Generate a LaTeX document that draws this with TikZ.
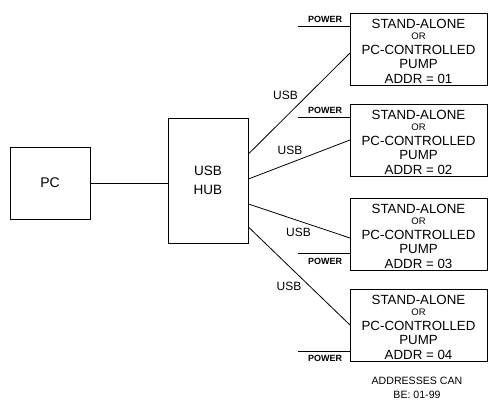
\documentclass[tikz,border=0pt]{standalone}
\usepackage{fontspec}
\setmainfont{Liberation Sans}
\begin{document}
\begin{tikzpicture}[x=1pt,y=-1pt,
 box/.style={draw, rectangle, inner sep=0pt, line width=0.8pt},
 pump/.style={box, minimum width=137pt, minimum height=72pt, anchor=north west},
 ptext/.style={font=\fontsize{13.3}{15}\selectfont, inner sep=0pt},
 ortext/.style={font=\fontsize{9.5}{11}\selectfont, inner sep=0pt},
 lbl/.style={font=\fontsize{12}{13}\selectfont, inner sep=0pt},
 pwr/.style={font=\bfseries\fontsize{9}{10}\selectfont, inner sep=0pt},
 note/.style={font=\fontsize{10.6}{12}\selectfont, inner sep=0pt},
 conn/.style={line width=0.8pt}]
\useasboundingbox (0,0) rectangle (488,400);

% PC and hub
\node[box, minimum width=80pt, minimum height=72pt, font=\fontsize{14}{16}\selectfont] (pc) at (50,183) {PC};
\node[box, minimum width=80pt, minimum height=125pt, align=center, font=\fontsize{13.5}{19}\selectfont] (hub) at (208,180.5) {USB\\HUB};
\draw[conn] (pc.east) -- (hub.west |- pc.east);

% pump boxes
\foreach \i/\t in {1/13,2/104,3/198,4/289}{
  \node[pump] (pump\i) at (350,\t) {};
  \node[ptext] (sa\i) at (418.5,\t+11) {STAND-ALONE};
  \node[ortext] (or\i) at (418.5,\t+23) {OR};
  \node[ptext] (pcc\i) at (418.5,\t+37) {PC-CONTROLLED};
  \node[ptext] (pm\i) at (418.5,\t+50.5) {PUMP};
  \node[ptext] (ad\i) at (418.5,\t+66) {ADDR = 0\i};
}

% USB connections
\coordinate (h1) at (248,154);
\coordinate (h2) at (248,179);
\coordinate (h3) at (248,204);
\coordinate (h4) at (248,227);
\coordinate (u1) at (350,53);
\coordinate (u2) at (350,140);
\coordinate (u3) at (350,238);
\coordinate (u4) at (350,325);
\foreach \i in {1,2,3,4}{
  \draw[conn] (hub.east |- h\i) -- (pump\i.west |- u\i);
}
\node[lbl] (usb1) at (285.5,95.5) {USB};
\node[lbl] (usb2) at (290,150) {USB};
\node[lbl] (usb3) at (298.5,232.5) {USB};
\node[lbl] (usb4) at (289,286) {USB};

% power lines
\coordinate (p1) at (298,26);
\coordinate (p2) at (298,117);
\coordinate (p3) at (298,253);
\coordinate (p4) at (298,351);
\foreach \i in {1,2,3,4}{
  \draw[conn] (p\i) -- (pump\i.west |- p\i);
}
\node[pwr] (pw1) at (325,19) {POWER};
\node[pwr] (pw2) at (325,110) {POWER};
\node[pwr] (pw3) at (325,261) {POWER};
\node[pwr] (pw4) at (325,358.5) {POWER};

% note
\node[note] (n1) at (417,381) {ADDRESSES CAN};
\node[note] (n2) at (417,395) {BE: 01-99};
\end{tikzpicture}
\end{document}
